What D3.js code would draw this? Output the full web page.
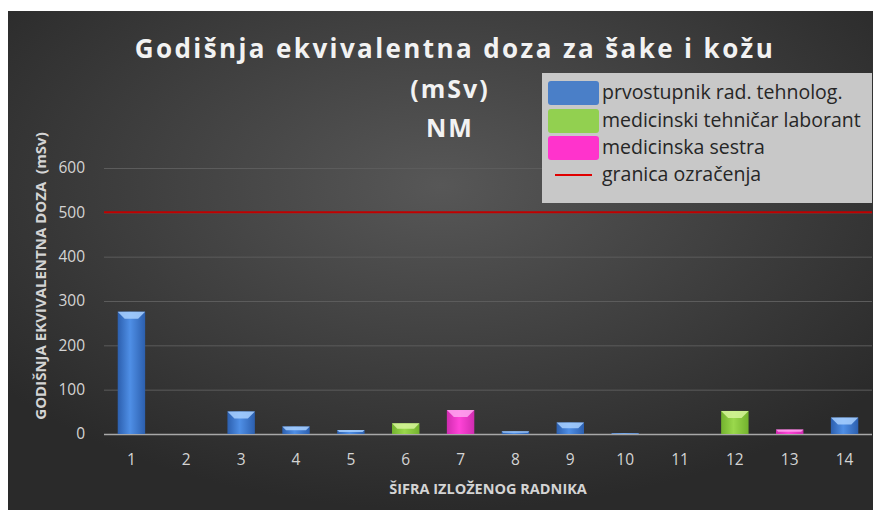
<!DOCTYPE html>
<html>
<head>
<meta charset="utf-8">
<script src="https://cdn.jsdelivr.net/npm/d3@7"></script>
<style>
  body { margin: 0; background: #fff; }
  svg { display: block; }
</style>
</head>
<body>
<div id="chart"></div>
<script>
// worker codes, dose values (mSv) and job group per worker
var workers = ["1", "2", "3", "4", "5", "6", "7", "8", "9", "10", "11", "12", "13", "14"];
var doses = [276, 0, 51, 17, 9, 24, 54, 6, 26, 2, 0, 52, 10, 37];
var groups = [0, 0, 0, 0, 0, 1, 2, 0, 0, 0, 0, 1, 2, 0];
var groupNames = ["prvostupnik rad. tehnolog.", "medicinski tehničar laborant", "medicinska sestra"];
var limitName = "granica ozračenja";
var limitValue = 500;
var yTicks = [0, 100, 200, 300, 400, 500, 600];

var W = 880, H = 513;
var frame = {x: 8, y: 11, w: 865, h: 499};
var margin = {top: 168, right: 8, bottom: 79, left: 104};

var svg = d3.select("#chart").append("svg")
	.attr("width", W)
	.attr("height", H);

var defs = svg.append("defs");

// background glow
var bg = defs.append("radialGradient")
	.attr("id", "bg")
	.attr("cx", "50%").attr("cy", "35%").attr("r", "65%");
bg.append("stop").attr("offset", "0%").attr("stop-color", "#575757");
bg.append("stop").attr("offset", "100%").attr("stop-color", "#2a2a2a");

// bar colours: edge, centre, bevel
var palette = [
	{edge: "#2c5fae", mid: "#4f8fe6", top: "#a8d0ff"},
	{edge: "#73b22e", mid: "#9ad84c", top: "#d6f49a"},
	{edge: "#d02cb0", mid: "#ff44d8", top: "#ffa6f0"}
];
var swatch = ["#4a7fc8", "#92d050", "#ff33cc"];

palette.forEach(function(p, i) {
	var g = defs.append("linearGradient")
		.attr("id", "bar" + i)
		.attr("x1", "0%").attr("x2", "100%").attr("y1", "0%").attr("y2", "0%");
	g.append("stop").attr("offset", "0%").attr("stop-color", p.edge);
	g.append("stop").attr("offset", "45%").attr("stop-color", p.mid);
	g.append("stop").attr("offset", "100%").attr("stop-color", p.edge);
});

svg.append("rect")
	.attr("x", frame.x).attr("y", frame.y)
	.attr("width", frame.w).attr("height", frame.h)
	.attr("fill", "url(#bg)");

var width = W - margin.left - margin.right;
var height = H - margin.top - margin.bottom;

var x = d3.scaleBand()
	.domain(workers)
	.range([margin.left, margin.left + width])
	.paddingInner(0.5)
	.paddingOuter(0.25);

var y = d3.scaleLinear()
	.domain([0, 600])
	.range([margin.top + height, margin.top]);

// grid lines
svg.append("g")
	.attr("transform", "translate(" + margin.left + ",0)")
	.call(d3.axisLeft(y).tickValues(yTicks).tickSize(-width).tickFormat(""))
	.call(function(g) { g.select(".domain").remove(); })
	.selectAll("line")
		.attr("stroke", function(d) { return d == 0 ? "#a8a8a8" : "#5c5c5c"; })
		.attr("stroke-width", function(d) { return d == 0 ? 1.5 : 1; });

// y tick labels
svg.append("g")
	.attr("transform", "translate(" + (margin.left - 16) + ",0)")
	.call(d3.axisLeft(y).tickValues(yTicks).tickSize(0))
	.call(function(g) { g.select(".domain").remove(); })
	.selectAll("text")
		.attr("fill", "#d4d4d4")
		.attr("font-family", "Open Sans, sans-serif")
		.attr("font-size", "15.5px");

// x tick labels
svg.append("g")
	.attr("transform", "translate(0," + (margin.top + height + 17) + ")")
	.call(d3.axisBottom(x).tickSize(0))
	.call(function(g) { g.select(".domain").remove(); })
	.selectAll("text")
		.attr("fill", "#d4d4d4")
		.attr("font-family", "Open Sans, sans-serif")
		.attr("font-size", "15.5px");

// bars
var bw = x.bandwidth();
var bars = svg.append("g").selectAll("g")
	.data(workers.map(function(w, i) { return {w: w, v: doses[i], g: groups[i]}; }).filter(function(d) { return d.v > 0; }))
	.enter().append("g");

bars.append("rect")
	.attr("x", function(d) { return x(d.w); })
	.attr("y", function(d) { return y(d.v); })
	.attr("width", bw)
	.attr("height", function(d) { return y(0) - y(d.v); })
	.attr("fill", function(d) { return "url(#bar" + d.g + ")"; });

// top bevel highlight
bars.append("path")
	.attr("d", function(d) {
		var x0 = x(d.w), y0 = y(d.v), h = Math.min(7, (y(0) - y(d.v)) / 2);
		return "M" + x0 + "," + y0 + "L" + (x0 + bw) + "," + y0 +
			"L" + (x0 + bw - h) + "," + (y0 + h) + "L" + (x0 + h) + "," + (y0 + h) + "Z";
	})
	.attr("fill", function(d) { return palette[d.g].top; })
	.attr("opacity", 0.85);

// limit line
svg.append("line")
	.attr("x1", margin.left).attr("x2", margin.left + width)
	.attr("y1", y(limitValue)).attr("y2", y(limitValue))
	.attr("stroke", "#c00000")
	.attr("stroke-width", 2);

// titles
var title = svg.append("g")
	.attr("font-family", "Open Sans, sans-serif")
	.attr("font-weight", "bold")
	.attr("fill", "#f2f2f2")
	.attr("text-anchor", "middle");
title.append("text").attr("x", 455).attr("y", 58)
	.attr("font-size", "26px").attr("letter-spacing", "2.4px")
	.text("Godišnja ekvivalentna doza za šake i kožu");
title.append("text").attr("x", 450).attr("y", 98)
	.attr("font-size", "25px").attr("letter-spacing", "2px")
	.text("(mSv)");
title.append("text").attr("x", 450).attr("y", 137)
	.attr("font-size", "25px").attr("letter-spacing", "2px")
	.text("NM");

svg.append("text")
	.attr("transform", "translate(46," + 276 + ") rotate(-90)")
	.attr("text-anchor", "middle")
	.attr("font-family", "Open Sans, sans-serif")
	.attr("font-weight", "bold")
	.attr("font-size", "15px")
	.attr("fill", "#d4d4d4")
	.attr("xml:space", "preserve")
	.text("GODIŠNJA EKVIVALENTNA DOZA  (mSv)");

svg.append("text")
	.attr("x", 488).attr("y", 494)
	.attr("text-anchor", "middle")
	.attr("font-family", "Open Sans, sans-serif")
	.attr("font-weight", "bold")
	.attr("font-size", "14.5px")
	.attr("fill", "#d4d4d4")
	.text("ŠIFRA IZLOŽENOG RADNIKA");

// legend
var legend = svg.append("g").attr("transform", "translate(542,73)");
legend.append("rect")
	.attr("width", 330).attr("height", 130)
	.attr("fill", "#c8c8c8");

var rowY = [20, 48, 75, 102];
groupNames.forEach(function(name, i) {
	legend.append("rect")
		.attr("x", 6).attr("y", rowY[i] - 12)
		.attr("width", 51).attr("height", 24)
		.attr("rx", 3)
		.attr("fill", swatch[i]);
	legend.append("text")
		.attr("x", 60).attr("y", rowY[i] + 6)
		.attr("font-family", "Open Sans, sans-serif")
		.attr("font-size", "19.5px")
		.attr("fill", "#262626")
		.text(name);
});
legend.append("line")
	.attr("x1", 13).attr("x2", 50)
	.attr("y1", rowY[3]).attr("y2", rowY[3])
	.attr("stroke", "#e00000").attr("stroke-width", 2);
legend.append("text")
	.attr("x", 60).attr("y", rowY[3] + 6)
	.attr("font-family", "Open Sans, sans-serif")
	.attr("font-size", "19.5px")
	.attr("fill", "#262626")
	.text(limitName);
</script>
</body>
</html>
